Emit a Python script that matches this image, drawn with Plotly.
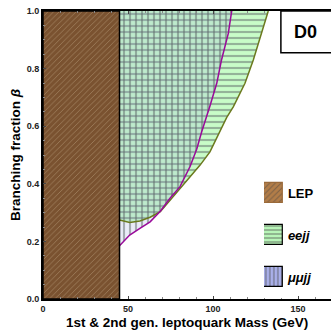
import plotly.graph_objects as go

# ---- data ----
lep_limit = 45.0
mass_ee = [45.0, 51, 57, 63, 69, 75, 80.6, 86.5, 92.4, 98.2, 104, 108, 112, 118.8, 123.7, 128.6, 132.5]
beta_ee = [0.274, 0.266, 0.271, 0.284, 0.303, 0.344, 0.384, 0.425, 0.465, 0.511, 0.58, 0.63, 0.668, 0.749, 0.83, 0.922, 1.0]
mass_mm = [45.0, 51, 57, 63, 69, 74.7, 80.6, 86.5, 90.4, 93.3, 98.2, 102.2, 105, 109, 111]
beta_mm = [0.185, 0.222, 0.245, 0.268, 0.305, 0.35, 0.39, 0.46, 0.52, 0.58, 0.67, 0.749, 0.83, 0.922, 1.0]
x_ticks = [0, 50, 100, 150]
y_ticks = [0.0, 0.2, 0.4, 0.6, 0.8, 1.0]
legend_labels = ["LEP", "eejj", "μμjj"]

# styles
ee_bg, mm_bg, lep_bg = "#c8fcc8", "rgba(150,160,220,0.2)", "#7a5230"
grid_fg = "#5f6a6a"

fig = go.Figure()

# eejj excluded region
fig.add_trace(go.Scatter(
    x=[lep_limit] + mass_ee + [lep_limit], y=[1.0] + beta_ee + [1.0],
    fill="toself", mode="lines", line=dict(width=0, color="black"),
    fillcolor=ee_bg,
    fillpattern=dict(shape="-", bgcolor=ee_bg, fgcolor=grid_fg, size=6, solidity=0.36),
    showlegend=False, hoverinfo="skip"))
# mumujj excluded region
fig.add_trace(go.Scatter(
    x=[lep_limit] + mass_mm + [lep_limit], y=[1.0] + beta_mm + [1.0],
    fill="toself", mode="lines", line=dict(width=0, color="black"),
    fillcolor=mm_bg,
    fillpattern=dict(shape="|", bgcolor=mm_bg, fgcolor=grid_fg, size=6, solidity=0.36),
    showlegend=False, hoverinfo="skip"))
# boundary curves
fig.add_trace(go.Scatter(x=mass_ee, y=beta_ee, mode="lines",
                         line=dict(color="#6b7a1e", width=1.5), showlegend=False, hoverinfo="skip"))
fig.add_trace(go.Scatter(x=mass_mm, y=beta_mm, mode="lines",
                         line=dict(color="#9a0a9a", width=1.5), showlegend=False, hoverinfo="skip"))
# LEP
fig.add_trace(go.Scatter(
    x=[0, lep_limit, lep_limit, 0, 0], y=[0, 0, 1, 1, 0],
    fill="toself", mode="lines", line=dict(width=1.5, color="black"),
    fillcolor=lep_bg,
    fillpattern=dict(shape="/", bgcolor=lep_bg, fgcolor="#c9b08c", size=4, solidity=0.2),
    showlegend=False, hoverinfo="skip"))

# legend swatches (small inset axes)
fig.add_trace(go.Bar(
    x=[1] * len(legend_labels), y=legend_labels, orientation="h", width=0.46,
    xaxis="x2", yaxis="y2", showlegend=False, hoverinfo="skip",
    marker=dict(color=["#b27d48", "#b8f5b8", "#aab0ea"],
                line=dict(color=["#9a6a3a", "black", "black"], width=1.2),
                pattern=dict(shape=["/", "-", "|"],
                             bgcolor=["#b27d48", "#b8f5b8", "#aab0ea"],
                             fgcolor=["#f0e0cc", "#333333", "#222244"],
                             size=[4, 4, 4], solidity=[0.25, 0.35, 0.35]))))

fig.add_shape(type="rect", xref="paper", yref="paper", x0=0.826, x1=1.2, y0=0.855, y1=1.0,
              line=dict(color="black", width=1.5), fillcolor="white")
fig.add_annotation(text="<b>D0</b>", xref="paper", yref="paper", x=0.913, y=0.927,
                   xanchor="center", yanchor="middle",
                   showarrow=False, font=dict(size=18, color="black", family="Arial"))

# axis titles
fig.add_annotation(text="<b>1st & 2nd gen. leptoquark Mass (GeV)</b>", xref="paper", yref="paper",
                   x=0.5, y=-0.083, showarrow=False, font=dict(size=13.5, color="black"),
                   xanchor="center", yanchor="middle")
fig.add_annotation(text="<b>Branching fraction <i>β</i></b>", xref="paper", yref="paper",
                   x=-0.097, y=0.5, showarrow=False, textangle=-90, font=dict(size=13.5, color="black"),
                   xanchor="center", yanchor="middle")

fig.update_layout(
    width=331, height=331,
    margin=dict(l=43, r=0, t=11, b=32),
    plot_bgcolor="white", paper_bgcolor="white",
    font=dict(family="Arial", color="black"),
    showlegend=False,
    xaxis=dict(range=[0, 169.4], tickvals=x_ticks, ticktext=[f"<b>{v}</b>" for v in x_ticks],
               ticks="inside", ticklen=3, showline=True, linecolor="black", linewidth=2,
               mirror="ticks", showgrid=False, zeroline=False, automargin=False,
               minor=dict(dtick=10, ticks="inside", ticklen=2, tickcolor="#888"),
               tickfont=dict(size=9, color="#222")),
    yaxis=dict(range=[0, 1.0], tickvals=y_ticks, ticktext=[f"<b>{v:.1f}</b>" for v in y_ticks],
               ticks="inside", ticklen=3, showline=True, linecolor="black", linewidth=2,
               showgrid=False, zeroline=False, automargin=False,
               minor=dict(dtick=0.05, ticks="inside", ticklen=2, tickcolor="#888"),
               tickfont=dict(size=9, color="#222")),
    xaxis2=dict(domain=[0.767, 0.833], anchor="y2", range=[0, 1], visible=False, fixedrange=True),
    yaxis2=dict(domain=[0.0035, 0.441], anchor="x2", side="right", autorange="reversed",
                tickvals=legend_labels,
                ticktext=["<b>LEP</b>", "<b><i>eejj</i></b>", "<b><i>μμjj</i></b>"],
                showline=False, showgrid=False, zeroline=False, ticks="", automargin=False,
                tickfont=dict(size=13, color="black"), ticklabelstandoff=4),
    bargap=0,
)

fig.write_html("out.html", config={"displayModeBar": False},
               post_script="document.body.style.margin='0';document.body.style.overflow='hidden';")
